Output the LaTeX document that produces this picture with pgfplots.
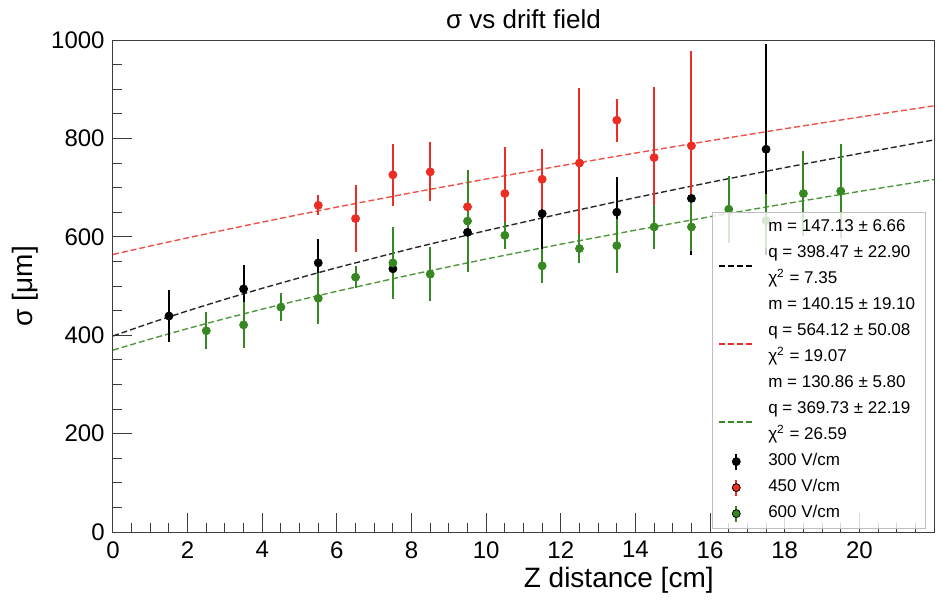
\documentclass[border=0pt]{standalone}
\usepackage{fontspec}
\setmainfont{Liberation Sans}
\setsansfont{Liberation Sans}
\usepackage{pgfplots}
\usepackage{pgfplotstable}
\pgfplotsset{compat=1.18}
\definecolor{rred}{RGB}{235,45,35}
\definecolor{rgreen}{RGB}{55,135,35}
\definecolor{lred}{RGB}{240,80,70}
\definecolor{lgreen}{RGB}{80,150,60}
\definecolor{lblack}{RGB}{40,40,40}
\definecolor{frame}{RGB}{60,60,60}

\pgfplotstableread{
x y ey
1.5 439 53
3.5 494 49
5.5 547 48
7.5 535 30
9.5 609 45
11.5 647 85
13.5 650 72
15.5 678 116
17.5 778 214
}\blackdata
\pgfplotstableread{
x y ey
5.5 664 20
6.5 637 68
7.5 726 63
8.5 732 60
9.5 661 59
10.5 688 95
11.5 717 61
12.5 750 152
13.5 837 44
14.5 761 143
15.5 785 193
}\reddata
\pgfplotstableread{
x y ey
2.5 409 38
3.5 421 47
4.5 457 28
5.5 475 52
6.5 518 22
7.5 547 73
8.5 524 55
9.5 632 103
10.5 603 28
11.5 541 34
12.5 576 30
13.5 582 55
14.5 620 44
15.5 620 49
16.5 656 68
17.5 633 55
18.5 688 87
19.5 693 96
}\greendata

\begin{document}
\begin{tikzpicture}
\useasboundingbox (-56.5pt,-37pt) rectangle (414.5pt,266pt);
\begin{axis}[
  at={(0,0)}, anchor=south west,
  scale only axis, width=410.5pt, height=246pt,
  xmin=0, xmax=22, ymin=0, ymax=1000,
  axis line style={frame, line width=0.5pt},
  tick style={frame, line width=0.5pt},
  tick align=inside, xtick pos=bottom, ytick pos=left,
  major tick length=9.5pt, minor tick length=4.75pt,
  xtick={0,2,...,20}, minor xtick={0,0.5,...,21.5},
  ytick={0,200,...,1000}, minor ytick={0,50,...,1000},
  /pgf/number format/assume math mode=true,
  /pgf/number format/1000 sep={},
  ticklabel style={font=\fontsize{12}{14}\selectfont},
  xticklabel style={anchor=north, inner sep=0pt, yshift=-4.5pt},
  yticklabel style={anchor=east, inner sep=0pt, xshift=-4pt},
  title={σ vs drift field},
  title style={font=\fontsize{13}{15}\selectfont, at={(0.5,1)}, anchor=base, yshift=0pt},
  xlabel={Z distance [cm]},
  xlabel style={font=\fontsize{14}{16}\selectfont, at={(axis description cs:0.616,-0.0976)}, anchor=center},
  ylabel={σ [μm]},
  ylabel style={font=\fontsize{14}{16}\selectfont, at={(axis description cs:-0.1072,0.5)}, anchor=center, rotate=0},
  legend cell align=left,
  legend style={at={(0.7295,0.65)}, anchor=north west,
    draw=black!25, fill=white, fill opacity=0.8, text opacity=1,
    font=\fontsize{8.5}{10}\selectfont,
    inner xsep=3pt, inner ysep=1pt,
    nodes={inner ysep=0pt, inner xsep=2pt, text height=8.5pt, text depth=4.5pt},
    /tikz/every odd column/.append style={column sep=5pt},
    row sep=0pt},
]
% fit curves (values sigma = sqrt(q^2 + m^2 z) evaluated by hand)
\addplot[lblack, line width=0.7pt, dash pattern=on 3pt off 1.5pt, forget plot] coordinates {
(0,398.5) (1,424.8) (2,449.5) (3,473.0) (4,495.3) (5,516.7) (6,537.3) (8,576.2) (10,612.6) (12,646.9) (14,679.6) (16,710.7) (18,740.6) (20,769.2) (22,796.9)};
\addplot[lred, line width=0.7pt, dash pattern=on 3pt off 1.5pt, forget plot] coordinates {
(0,564.1) (1,581.3) (2,597.9) (3,614.1) (4,629.9) (5,645.3) (6,660.4) (8,689.5) (10,717.4) (12,744.3) (14,770.2) (16,795.3) (18,819.6) (20,843.3) (22,866.2)};
\addplot[lgreen, line width=0.7pt, dash pattern=on 3pt off 1.5pt, forget plot] coordinates {
(0,369.7) (1,392.2) (2,413.5) (3,433.7) (4,453.0) (5,471.5) (6,489.3) (8,523.2) (10,554.9) (12,585.0) (14,613.5) (16,640.9) (18,667.0) (20,692.2) (22,716.5)};
% data
\addplot[only marks, mark=*, mark size=2pt, color=black, forget plot,
  error bars/.cd, y dir=both, y explicit, error mark=none,
  error bar style={line width=1pt, black}] table[x=x, y=y, y error=ey] {\blackdata};
\addplot[only marks, mark=*, mark size=2pt, color=rred, forget plot,
  error bars/.cd, y dir=both, y explicit, error mark=none,
  error bar style={line width=1pt, rred}] table[x=x, y=y, y error=ey] {\reddata};
\addplot[only marks, mark=*, mark size=2pt, color=rgreen, forget plot,
  error bars/.cd, y dir=both, y explicit, error mark=none,
  error bar style={line width=1pt, rgreen}] table[x=x, y=y, y error=ey] {\greendata};
% legend
\addlegendimage{empty legend}
\addlegendentry{m = 147.13 ± 6.66}
\addlegendimage{legend image code/.code={\draw[draw=black, draw opacity=1, line width=0.9pt, dash pattern=on 3pt off 1.5pt] (0cm,-6pt)--(0.6cm,-6pt);}}
\addlegendentry{q = 398.47 ± 22.90}
\addlegendimage{empty legend}
\addlegendentry{χ\textsuperscript{2} = 7.35}
\addlegendimage{empty legend}
\addlegendentry{m = 140.15 ± 19.10}
\addlegendimage{legend image code/.code={\draw[draw=rred, draw opacity=1, line width=0.9pt, dash pattern=on 3pt off 1.5pt] (0cm,-6pt)--(0.6cm,-6pt);}}
\addlegendentry{q = 564.12 ± 50.08}
\addlegendimage{empty legend}
\addlegendentry{χ\textsuperscript{2} = 19.07}
\addlegendimage{empty legend}
\addlegendentry{m = 130.86 ± 5.80}
\addlegendimage{legend image code/.code={\draw[draw=rgreen, draw opacity=1, line width=0.9pt, dash pattern=on 3pt off 1.5pt] (0cm,-6pt)--(0.6cm,-6pt);}}
\addlegendentry{q = 369.73 ± 22.19}
\addlegendimage{empty legend}
\addlegendentry{χ\textsuperscript{2} = 26.59}
\addlegendimage{legend image code/.code={\draw[draw=black, line width=1pt] (0.3cm,-4pt)--(0.3cm,4pt); \fill[fill=black, fill opacity=1] (0.3cm,0pt) circle (2pt);}}
\addlegendentry{300 V/cm}
\addlegendimage{legend image code/.code={\draw[draw=rred, line width=1pt] (0.3cm,-4pt)--(0.3cm,4pt); \fill[fill=rred, fill opacity=1] (0.3cm,0pt) circle (2pt);}}
\addlegendentry{450 V/cm}
\addlegendimage{legend image code/.code={\draw[draw=rgreen, line width=1pt] (0.3cm,-4pt)--(0.3cm,4pt); \fill[fill=rgreen, fill opacity=1] (0.3cm,0pt) circle (2pt);}}
\addlegendentry{600 V/cm}
\end{axis}
\end{tikzpicture}
\end{document}
